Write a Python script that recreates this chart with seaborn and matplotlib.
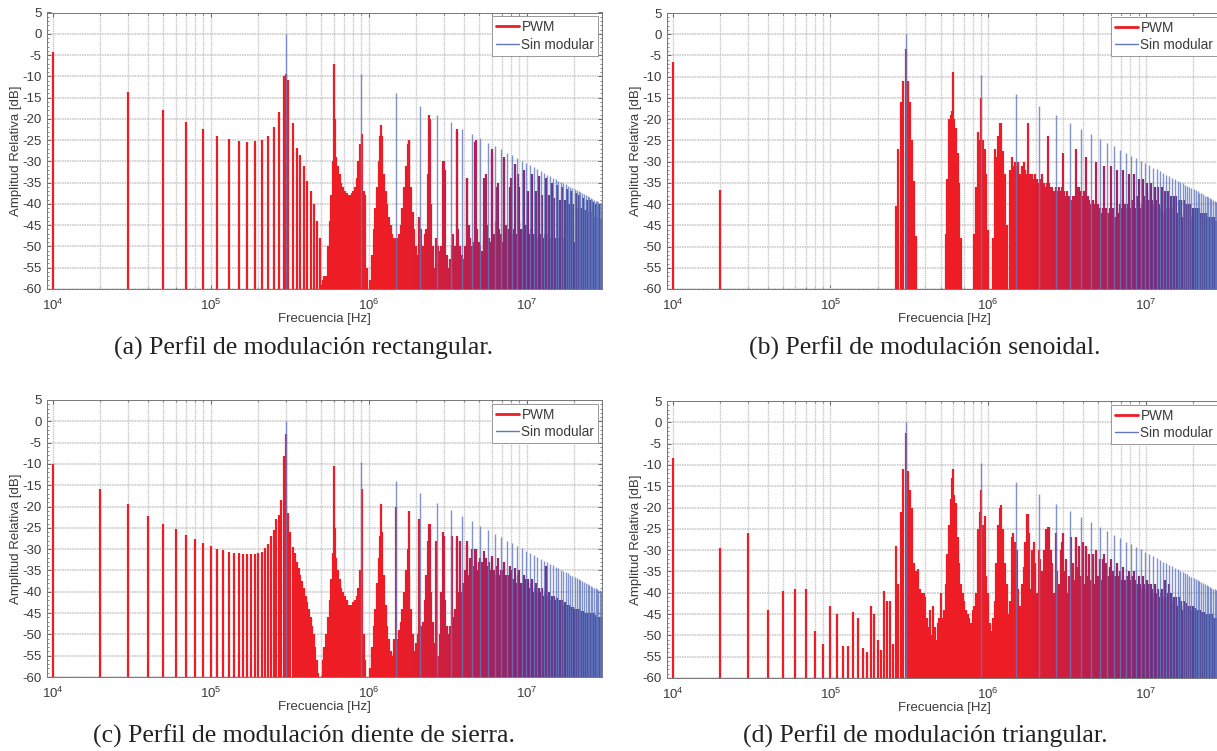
import pandas as pd
import matplotlib
matplotlib.use("Agg")
import matplotlib.pyplot as plt
import seaborn as sns
from matplotlib.colors import LogNorm
from matplotlib.lines import Line2D
from matplotlib.ticker import LogLocator, MultipleLocator, NullFormatter

W, H = 1217, 751

# armonicos de la portadora sin modular (kHz, dB)
blue_khz = [300, 900, 1500, 2100, 2700, 3300, 3900, 4500, 5100, 5700,
            6300, 6900, 7500, 8100, 8700, 9300, 9900, 10500, 11100, 11700,
            12300, 12900, 13500, 14100, 14700, 15300, 15900, 16500, 17100, 17700,
            18300, 18900, 19500, 20100, 20700, 21300, 21900, 22500, 23100, 23700,
            24300, 24900, 25500, 26100, 26700, 27300, 27900, 28500, 29100, 29700]
blue_db = [0, -9.5, -14, -16.9, -19.1, -20.8, -22.3, -23.5, -24.6, -25.6,
           -26.4, -27.2, -28, -28.6, -29.2, -29.8, -30.4, -30.9, -31.4, -31.8,
           -32.3, -32.7, -33.1, -33.4, -33.8, -34.2, -34.5, -34.8, -35.1, -35.4,
           -35.7, -36, -36.3, -36.5, -36.8, -37, -37.3, -37.5, -37.7, -38,
           -38.2, -38.4, -38.6, -38.8, -39, -39.2, -39.4, -39.6, -39.7, -39.9]

# rejilla comun para la zona densa del espectro PWM (kHz)
dense_khz = [500, 512, 525, 538, 552, 566, 580, 594, 609, 624,
             640, 656, 672, 689, 706, 724, 742, 761, 780, 800,
             820, 840, 861, 883, 905, 928, 951, 975, 999, 1024,
             1050, 1076, 1103, 1130, 1159, 1188, 1217, 1248, 1279, 1311,
             1344, 1377, 1412, 1447, 1483, 1520, 1558, 1597, 1637, 1678,
             1720, 1763, 1807, 1852, 1899, 1946, 1995, 2045, 2096, 2148,
             2202, 2257, 2313, 2371, 2431, 2491, 2554, 2618, 2683, 2750,
             2819, 2889, 2961, 3035, 3111, 3189, 3269, 3351, 3434, 3520,
             3608, 3698, 3791, 3886, 3983, 4083, 4185, 4289, 4397, 4507,
             4619, 4735, 4853, 4974, 5099, 5226, 5357, 5491, 5628, 5769,
             5913, 6061, 6212, 6368, 6527, 6690, 6858, 7029, 7205, 7385,
             7570, 7759, 7953, 8152, 8356, 8565, 8779, 8999, 9224, 9454,
             9691, 9933, 10181, 10436, 10697, 10964, 11238, 11519, 11807, 12102,
             12405, 12715, 13033, 13359, 13693, 14035, 14386, 14745, 15114, 15492,
             15879, 16276, 16683, 17100, 17527, 17966, 18415, 18875, 19347, 19831,
             20327, 20835, 21356, 21890, 22437, 22998, 23573, 24162, 24766, 25385,
             26020, 26671, 27337, 28021, 28721, 29439, 30175]

# armonicos pares, picos rojos
peak_khz = [600, 1200, 1800, 2400, 3000, 3600, 4200, 4800, 5400, 6000,
            6600, 7200, 7800, 8400, 9000, 9600, 10200, 10800, 11400, 12000,
            12600, 13200, 13800, 14400, 15000, 15600, 16200, 16800, 17400, 18000,
            18600, 19200, 19800, 20400, 21000, 21600, 22200, 22800, 23400, 24000,
            24600, 25200, 25800, 26400, 27000, 27600, 28200, 28800, 29400]

# (a) rectangular
a_low_khz = [10, 30, 50, 70, 90, 110, 130, 150, 170, 190, 210, 230, 250,
             270, 290, 300, 310, 330, 350, 370, 390, 410, 430, 450, 470, 490]
a_low_db = [-4.3, -13.8, -18, -20.7, -22.5, -24, -24.8, -25.1, -25.5, -25.2, -24.9, -24, -22,
            -18.5, -10, -9.5, -10.8, -21, -26.8, -28.5, -31, -34.5, -37, -40, -44, -48]
a_dense_db = [-59, -58, -57, -57, -50, -44, -38, -30, -20, -29,
              -31, -33, -35, -36, -37, -37.5, -38, -38, -37.5, -37,
              -36, -34, -30, -26, -23.5, -37, -38, -55, -60, -58,
              -52, -46, -41, -36, -30, -24, -24, -33, -37, -40,
              -43, -45, -47, -48, -48, -48, -47, -45, -41, -36,
              -31, -26, -25, -36, -42, -46, -50, -52, -43, -46,
              -50, -47, -46, -33, -20, -40, -50, -55, -48, -50,
              -51, -50, -30, -32, -52, -55, -53, -50, -47, -50,
              -23, -46, -50, -52, -53, -50, -34, -45, -48, -50,
              -49, -25.5, -46, -49, -50, -51, -47, -33, -45, -48,
              -49, -28, -47, -44, -36, -46, -47, -49, -29, -45,
              -46, -47, -34, -47, -46, -47, -33, -44, -46, -46,
              -47, -45, -46, -47, -46, -47, -47, -46, -48, -47,
              -47, -48, -47, -48, -47, -48, -48, -47, -48, -48,
              -48, -48, -49, -48, -49, -48, -49, -49, -48, -49,
              -49, -49, -50, -49, -49, -50, -49, -50, -50, -49,
              -50, -50, -50, -51, -50, -50, -51]
a_peak_db = [-7, -21.5, -25, -19, -30, -22.5, -34, -25, -34, -27,
             -35, -29.5, -36, -30.5, -36, -32, -37, -33, -37, -33.5,
             -38, -34, -38, -35, -38.5, -35.5, -39, -36, -39, -36.5,
             -40, -37, -40, -37.5, -41, -38, -41, -38.5, -41.5, -39,
             -42, -39, -42, -39.5, -43, -40, -43, -40, -43.5]

# (b) senoidal
b_low_khz = [10, 20, 260, 270, 280, 290, 300, 310, 320, 330, 340, 350]
b_low_db = [-6.5, -36.8, -40.5, -27, -16, -11, -3.5, -11, -16, -25, -34.5, -47.5]
b_dense_db = [-60, -60, -60, -47, -34, -20, -19, -18, -20, -22,
              -28, -35, -48, -60, -60, -60, -60, -60, -60, -60,
              -47, -36, -23, -25, -15, -25, -27, -33, -46, -60,
              -60, -48, -27, -29, -24, -21, -29, -27.5, -33, -45,
              -60, -32, -29, -31, -30, -31, -30, -33, -31, -30,
              -32, -33, -34, -33, -33, -34, -33, -34, -35, -34,
              -33, -35, -36, -35, -35, -36, -36, -37, -36, -37,
              -36, -37, -36, -37, -38, -37, -38, -39, -38, -38,
              -38, -36, -36, -37, -38, -37, -39, -38, -39, -40,
              -39, -40, -41, -40, -41, -42, -41, -42, -41, -42,
              -41, -42, -41, -43, -41, -42, -40, -41, -39, -40,
              -41, -40, -41, -39, -40, -41, -38, -39, -41, -40,
              -38, -39, -37, -39, -41, -39, -40, -41, -39, -40,
              -41, -40, -42, -41, -42, -41, -43, -41, -42, -43,
              -42, -43, -42, -43, -44, -43, -42, -44, -43, -42,
              -43, -44, -43, -42, -44, -43, -44, -43, -44, -43,
              -44, -43, -44, -44, -43, -44, -44]
b_peak_db = [-9, -21, -21, -24, -28, -27, -29, -30, -31, -31,
             -32, -32, -33, -33, -34, -34, -35, -35, -36, -36,
             -36, -37, -37, -38, -38, -38, -39, -39, -39, -40,
             -40, -40, -41, -41, -41, -41, -42, -42, -42, -42,
             -43, -43, -43, -43, -43, -44, -44, -44, -44]

# (c) diente de sierra
c_low_khz = [10, 20, 30, 40, 50, 60, 70, 80, 90, 100, 110, 120, 130, 140, 150, 160,
             170, 180, 190, 200, 210, 220, 230, 240, 250, 260, 270, 280, 290, 300,
             310, 320, 330, 340, 350, 360, 370, 380, 390, 400, 410, 420, 430, 440,
             450, 460, 470, 480]
c_low_db = [-10, -16, -19.5, -22.3, -24, -25.3, -26.6, -27.7, -28.6, -29.2, -29.9, -30.3, -30.6, -30.8, -31, -31.1,
            -31.2, -31.2, -31.2, -31, -30.6, -29.8, -28.8, -27, -25.5, -23, -22, -18.5, -8.2, -3,
            -21.5, -26, -29.5, -31, -33, -34.5, -36, -37.5, -39, -41, -42.5, -44, -46, -48,
            -50, -53, -56, -59]
c_dense_db = [-60, -56, -53, -50, -46, -42, -37, -31, -25, -32,
              -35, -37, -39, -40, -41, -42, -43, -43, -43, -42.5,
              -42, -41, -39, -35, -16, -50, -56, -60, -60, -58,
              -53, -48, -44, -38, -32, -27, -26, -36, -43, -48,
              -51, -54, -55, -51, -20, -51, -49, -47, -44, -40,
              -35, -30, -36, -44, -50, -54, -52, -50, -23, -48,
              -47, -42, -36, -28, -24, -40, -47, -52, -28, -55,
              -50, -40, -26, -42, -48, -50, -48, -27, -46, -44,
              -27, -40, -28, -40, -38, -35, -28, -36, -32, -30,
              -34, -30, -35, -33, -32, -33, -34, -32, -34, -33,
              -35, -32, -35, -36, -34, -36, -35, -35, -33, -36,
              -36, -37, -35, -37, -37, -38, -36, -38, -38, -38,
              -39, -37, -39, -39, -38, -40, -39, -38, -40, -41,
              -40, -41, -40, -34, -41, -42, -42, -41, -42, -43,
              -42, -43, -43, -43, -44, -43, -44, -44, -44, -44,
              -44, -45, -44, -45, -45, -45, -45, -45, -45, -46,
              -46, -45, -46, -46, -46, -46, -47]
c_peak_db = [-10.5, -19.5, -21, -24, -27, -27.5, -29, -30, -30.5, -31.5,
             -32, -33, -34, -34.5, -35, -36, -37, -37, -38, -39,
             -39, -34, -40, -41, -41, -41.5, -42, -42, -42.5, -43,
             -43, -43.5, -43.5, -44, -44, -44, -44.5, -44.5, -45, -45,
             -45, -45, -45, -45.5, -45.5, -46, -46, -46, -46]

# (d) triangular
d_low_khz = [10, 20, 30, 40, 50, 60, 70, 80, 90, 100, 110, 120, 130, 140, 150, 160,
             170, 180, 190, 200, 210, 220, 230, 240, 250, 260, 270, 280, 290, 300,
             310, 320, 330, 340, 350, 360, 370, 380, 390, 400, 410, 420, 430, 440,
             450, 460, 470, 480, 490]
d_low_db = [-8.3, -29.5, -26, -44, -39.5, -39, -39, -49, -52, -43, -45, -52.5, -52.5, -44.5, -46, -53,
            -54, -43, -45, -51, -53.5, -39.5, -42, -42, -52, -29, -38, -21, -11, -2.5,
            -11.5, -16, -20, -33, -35, -34.5, -39, -40, -40, -41, -46, -48, -44, -50,
            -43, -48, -51, -47, -46]
d_dense_db = [-40, -46, -44, -38, -31, -24, -18, -13, -17, -19,
              -27, -33, -38, -40, -42, -44, -45, -46, -47, -44,
              -43, -40, -25, -21, -16, -24, -22, -36, -40, -47,
              -49, -46, -42, -33, -24, -20, -25, -25, -33, -38,
              -45, -42, -27, -26, -28, -30, -39, -43, -38, -34,
              -28, -21.5, -26, -39, -30, -28, -33, -40, -30, -32,
              -35, -30, -25, -33, -24.5, -30, -33, -40, -26, -35,
              -38, -30, -28, -35, -32, -40, -36, -27, -33, -37,
              -27, -34, -29, -36, -28, -38, -29.5, -36, -31, -37,
              -31, -38, -31, -36, -32, -37, -32, -38, -33, -36,
              -34, -35, -35, -36, -34, -36, -35, -37, -36, -37,
              -36, -37, -37, -36, -38, -37, -38, -38, -38, -39,
              -38, -39, -39, -38, -40, -39, -40, -38, -40, -41,
              -40, -41, -41, -42, -41, -38, -42, -42, -43, -42,
              -43, -43, -43, -44, -43, -44, -44, -44, -44, -45,
              -44, -45, -45, -45, -45, -45, -45, -46, -46, -46,
              -46, -46, -46, -46, -47, -47, -47]
d_peak_db = [-11, -19.5, -21.5, -24.5, -26, -27, -29, -30, -31, -32,
             -33, -34, -35, -35, -36, -36, -37, -38, -38, -39,
             -39, -37, -40, -40, -41, -41, -41, -42, -42, -42.5,
             -43, -43, -43, -43.5, -44, -44, -44, -44.5, -44.5, -45,
             -45, -45, -45, -45, -46, -46, -46, -46, -46]

captions = ["(a) Perfil de modulación rectangular.",
            "(b) Perfil de modulación senoidal.",
            "(c) Perfil de modulación diente de sierra.",
            "(d) Perfil de modulación triangular."]

# posicion de cada panel en pixeles: izquierda, derecha, arriba, abajo
boxes = [(47, 602, 12.5, 289), (667, 1221, 13, 289),
         (47, 602, 400, 677), (667, 1221, 401, 678)]
caption_xy = [(304, 348), (925, 348), (304, 736), (925, 736)]

red = "#ee1c25"
blue = "#6378c0"
pwm_cmap = sns.blend_palette([red, "#c01f4a", "#76297a", "#3b4a98"], as_cmap=True)

sns.set_style("ticks")
plt.rcParams["font.family"] = ["Liberation Sans", "DejaVu Sans"]
plt.rcParams["mathtext.default"] = "regular"
plt.rcParams["axes.unicode_minus"] = False
text_col = "#3a3a3a"


def stem_frame(khz, db):
    # cada raya son dos puntos: el suelo y el valor
    rows = []
    for i, (f, v) in enumerate(zip(khz, db)):
        if v > -60:
            rows.append((i, f * 1000, -60))
            rows.append((i, f * 1000, v))
    return pd.DataFrame(rows, columns=["stem", "f", "db"])


fig = plt.figure(figsize=(W / 100, H / 100), dpi=100)

panels = [(a_low_khz, a_low_db, a_dense_db, a_peak_db),
          (b_low_khz, b_low_db, b_dense_db, b_peak_db),
          (c_low_khz, c_low_db, c_dense_db, c_peak_db),
          (d_low_khz, d_low_db, d_dense_db, d_peak_db)]

for (low_f, low_v, dense_v, peak_v), box, cap, cap_xy in zip(panels, boxes, captions, caption_xy):
    left, right, top, bottom = box
    ax = fig.add_axes([left / W, 1 - bottom / H, (right - left) / W, (bottom - top) / H])
    ax.set_xscale("log")

    pwm = stem_frame(low_f + dense_khz + peak_khz, low_v + dense_v + peak_v)
    sns.lineplot(data=pwm, x="f", y="db", units="stem", estimator=None, hue="f",
                 hue_norm=LogNorm(1.5e6, 3e7), palette=pwm_cmap, linewidth=1.6,
                 solid_capstyle="butt", legend=False, ax=ax, zorder=3)
    sns.lineplot(data=stem_frame(blue_khz, blue_db), x="f", y="db", units="stem", estimator=None,
                 color=blue, alpha=0.8, linewidth=1.0, solid_capstyle="butt",
                 legend=False, ax=ax, zorder=4)

    ax.set_xlim(9200, 3e7)
    ax.set_ylim(-60, 5)
    ax.xaxis.set_major_locator(LogLocator(base=10, numticks=6))
    ax.xaxis.set_minor_locator(LogLocator(base=10, subs=range(2, 10), numticks=12))
    ax.xaxis.set_minor_formatter(NullFormatter())
    ax.yaxis.set_major_locator(MultipleLocator(5))
    ax.yaxis.set_minor_locator(MultipleLocator(1))

    ax.set_axisbelow(True)
    ax.grid(True, which="major", axis="y", color="#cccccc", linewidth=1.2, linestyle=(0, (1, 0.5)))
    ax.grid(True, which="both", axis="x", color="#c8c8c8", linewidth=1.0, linestyle=(0, (1, 0.6)))
    ax.tick_params(which="major", direction="in", length=3, width=0.6, top=True, right=True,
                   colors="#555555", labelcolor=text_col, labelsize=9.5, pad=4)
    ax.tick_params(axis="x", which="major", pad=6)
    ax.tick_params(which="minor", direction="in", length=1.5, width=0.5, top=True, right=True,
                   colors="#555555")
    for s in ax.spines.values():
        s.set_visible(True)
        s.set_color("#777777")
        s.set_linewidth(0.7)
        s.set_zorder(6)

    ax.set_xlabel("Frecuencia [Hz]", fontsize=9.5, color=text_col, labelpad=0)
    ax.set_ylabel("Amplitud Relativa [dB]", fontsize=9.5, color=text_col, labelpad=0)

    handles = [Line2D([], [], color=red, linewidth=2), Line2D([], [], color=blue, linewidth=1)]
    leg = ax.legend(handles, ["PWM", "Sin modular"], loc="upper right", fontsize=9.8,
                    bbox_to_anchor=(0.9935, 0.987), borderaxespad=0, frameon=True, fancybox=False,
                    framealpha=1, edgecolor="#999999", handlelength=1.65, handletextpad=0.2,
                    borderpad=0.3, labelspacing=0.25, labelcolor=text_col)
    leg.get_frame().set_linewidth(0.7)
    leg.set_zorder(7)

    fig.text(cap_xy[0] / W, 1 - cap_xy[1] / H, cap, family=["Liberation Serif", "DejaVu Serif"],
             fontsize=18.5, color="#222222", ha="center", va="center")

fig.savefig("out.png", dpi=100)
